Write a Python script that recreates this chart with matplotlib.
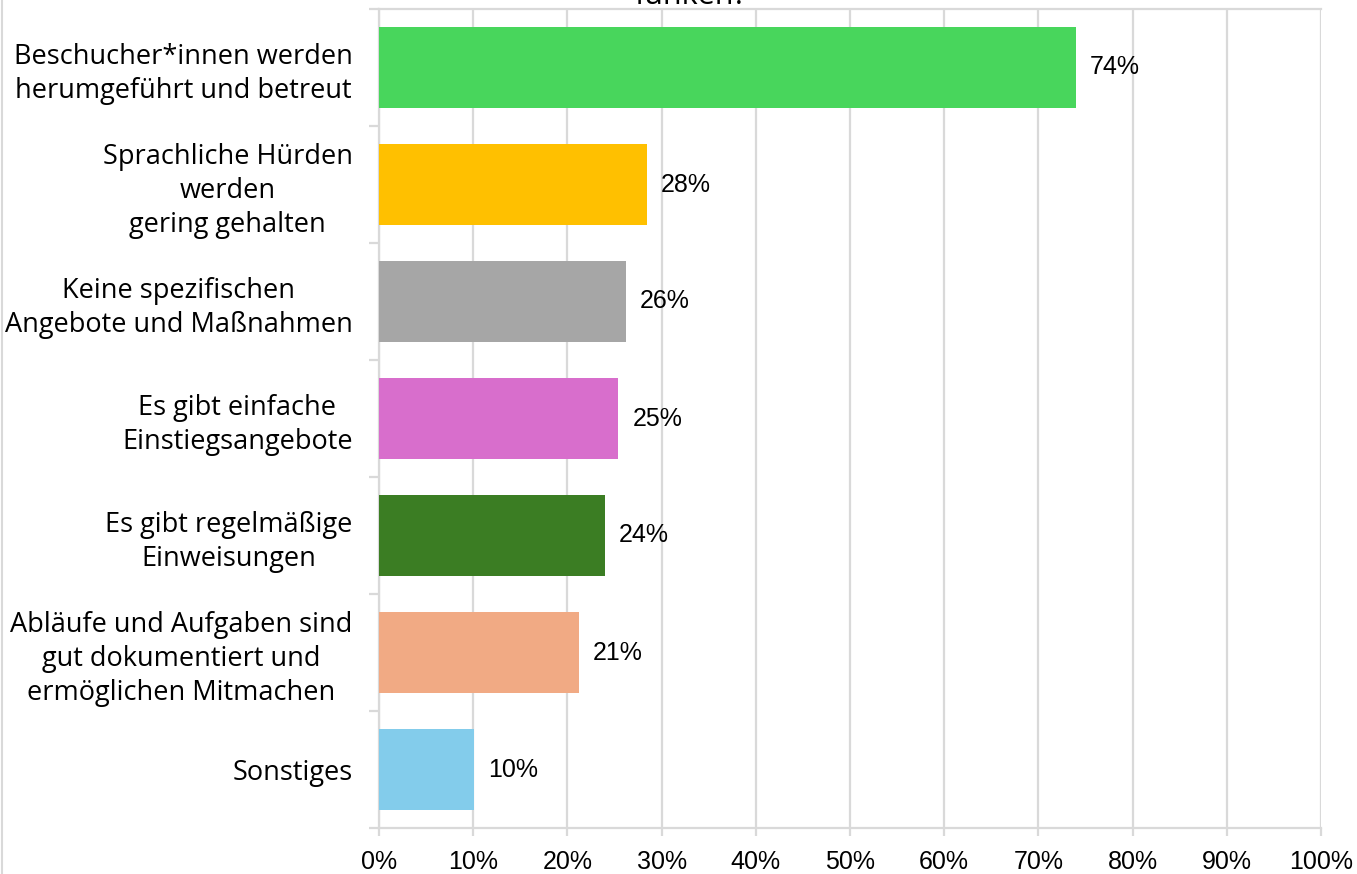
import matplotlib
matplotlib.use("Agg")
import matplotlib.pyplot as plt
from matplotlib.lines import Line2D
from matplotlib.ticker import FixedLocator, PercentFormatter

categories = [
    "Beschucher*innen werden\nherumgeführt und betreut",
    "Sprachliche Hürden\nwerden\ngering gehalten",
    "Keine spezifischen\nAngebote und Maßnahmen",
    "Es gibt einfache\nEinstiegsangebote",
    "Es gibt regelmäßige\nEinweisungen",
    "Abläufe und Aufgaben sind\ngut dokumentiert und\nermöglichen Mitmachen",
    "Sonstiges",
]
shares = [74.0, 28.4, 26.2, 25.4, 24.0, 21.2, 10.1]
colors = ["#48D65C", "#FFC000", "#A6A6A6", "#D86ECC", "#3B7D23", "#F1AA84", "#83CCEB"]
xticks = list(range(0, 101, 10))
title_tail = "funken?"

W, H = 1357, 874
fig = plt.figure(figsize=(W / 100, H / 100), dpi=100)
ax = fig.add_axes([379 / W, 1 - 828 / H, (1321 - 379) / W, (828 - 9) / H])

grid_c = "#D9D9D9"
n = len(categories)
ypos = list(range(n))
ax.barh(ypos, shares, height=0.70, color=colors, zorder=3)

for y, v in zip(ypos, shares):
    ax.text(v + 1.5, y, f"{v:.0f}%", va="center", ha="left",
            fontsize=18, family="Liberation Sans", color="#000000", zorder=4)

ax.set_xlim(0, 100)
ax.set_ylim(n - 0.5, -0.5)
ax.set_xticks(xticks)
ax.xaxis.set_major_formatter(PercentFormatter(decimals=0))
ax.grid(axis="x", color=grid_c, linewidth=1.6, zorder=0)
ax.set_axisbelow(True)

ax.set_yticks(ypos)
ax.set_yticklabels(categories, ha="right", multialignment="center",
                   fontsize=19.5, family="Open Sans", linespacing=1.3)
ax.yaxis.set_minor_locator(FixedLocator([i - 0.5 for i in range(n + 1)]))
ax.tick_params(axis="y", which="major", length=0, pad=19)
ax.tick_params(axis="y", which="minor", length=7, width=1.6, color=grid_c)
ax.tick_params(axis="x", which="major", length=6, width=1.6, color=grid_c,
               labelsize=18, pad=10)
for lbl in ax.get_xticklabels():
    lbl.set_family("Liberation Sans")

for side in ["left", "right", "top", "bottom"]:
    ax.spines[side].set_color(grid_c)
    ax.spines[side].set_linewidth(1.6)
ax.spines["right"].set_visible(False)

fig.add_artist(Line2D([1.5 / W, 1.5 / W], [0, 1], color=grid_c, linewidth=1.5))
fig.text(691 / W, 1 - 4.5 / H, title_tail, ha="center", va="baseline",
         fontsize=22, family="Open Sans", color="#000000")

fig.savefig("out.png", dpi=100, facecolor="white")
